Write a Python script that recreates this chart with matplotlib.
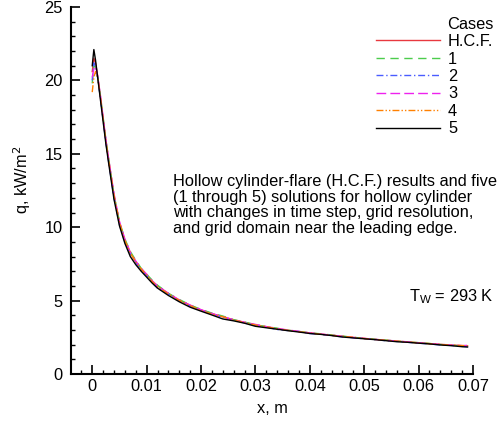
import matplotlib
matplotlib.use("Agg")
import matplotlib.pyplot as plt
from matplotlib.ticker import MultipleLocator

plt.rcParams['font.family'] = ['Liberation Sans', 'DejaVu Sans']
plt.rcParams['font.size'] = 11.8

# distance from leading edge, m
x = [0.0, 0.0003, 0.0006, 0.001, 0.0015, 0.002, 0.0025, 0.003, 0.004, 0.005,
     0.006, 0.007, 0.008, 0.009, 0.010, 0.011, 0.012, 0.014, 0.016, 0.018,
     0.020, 0.022, 0.024, 0.026, 0.028, 0.030, 0.032, 0.034, 0.036, 0.038,
     0.040, 0.042, 0.044, 0.046, 0.048, 0.050, 0.052, 0.054, 0.056, 0.058,
     0.060, 0.062, 0.064, 0.066, 0.068, 0.069]

# heat flux, kW/m^2
q_hcf = [20.6, 21.5, 21.2, 20.3, 18.9, 17.4, 15.9, 14.6, 12.1, 10.3,
         9.1, 8.25, 7.65, 7.15, 6.75, 6.35, 6.0, 5.48, 5.02, 4.68,
         4.37, 4.12, 3.9, 3.69, 3.52, 3.35, 3.22, 3.09, 2.98, 2.89,
         2.8, 2.72, 2.64, 2.57, 2.49, 2.42, 2.36, 2.3, 2.24, 2.18,
         2.13, 2.07, 2.02, 1.97, 1.94, 1.92]
q_case1 = [19.8, 21.0, 20.9, 20.2, 18.9, 17.5, 16.0, 14.7, 12.2, 10.4,
           9.2, 8.35, 7.75, 7.2, 6.8, 6.4, 6.05, 5.5, 5.08, 4.7,
           4.4, 4.15, 3.95, 3.7, 3.54, 3.36, 3.22, 3.12, 2.98, 2.9,
           2.8, 2.74, 2.66, 2.58, 2.5, 2.43, 2.37, 2.31, 2.24, 2.17,
           2.14, 2.08, 2.01, 1.96, 1.91, 1.89]
q_case2 = [20.0, 21.2, 21.0, 20.2, 18.8, 17.3, 15.8, 14.5, 12.0, 10.2,
           9.0, 8.2, 7.6, 7.05, 6.7, 6.25, 5.85, 5.45, 5.0, 4.62,
           4.34, 4.1, 3.86, 3.66, 3.48, 3.3, 3.2, 3.03, 2.96, 2.9,
           2.76, 2.7, 2.62, 2.53, 2.47, 2.4, 2.34, 2.27, 2.22, 2.16,
           2.1, 2.05, 1.98, 1.95, 1.88, 1.86]
q_case3 = [20.2, 20.8, 21.0, 20.3, 19.0, 17.5, 16.0, 14.7, 12.3, 10.4,
           9.2, 8.3, 7.7, 7.2, 6.8, 6.35, 6.0, 5.5, 5.05, 4.7,
           4.38, 4.12, 3.9, 3.7, 3.52, 3.38, 3.23, 3.1, 3.0, 2.9,
           2.8, 2.72, 2.65, 2.57, 2.49, 2.43, 2.36, 2.3, 2.25, 2.19,
           2.12, 2.07, 2.02, 1.98, 1.93, 1.95]
q_case4 = [19.2, 20.2, 20.6, 20.2, 18.9, 17.4, 15.9, 14.6, 12.2, 10.35,
           9.1, 8.25, 7.65, 7.15, 6.75, 6.3, 5.95, 5.45, 5.02, 4.66,
           4.33, 4.08, 3.9, 3.68, 3.5, 3.34, 3.22, 3.08, 2.97, 2.88,
           2.79, 2.71, 2.63, 2.57, 2.5, 2.42, 2.35, 2.3, 2.24, 2.18,
           2.12, 2.07, 2.01, 1.97, 1.93, 1.92]
q_case5 = [21.0, 22.1, 21.4, 20.2, 18.7, 17.2, 15.7, 14.4, 11.9, 10.1,
           8.9, 8.0, 7.45, 7.0, 6.6, 6.2, 5.85, 5.35, 4.92, 4.55,
           4.28, 4.02, 3.75, 3.62, 3.46, 3.25, 3.15, 3.05, 2.95, 2.86,
           2.76, 2.7, 2.62, 2.52, 2.46, 2.4, 2.34, 2.27, 2.2, 2.16,
           2.1, 2.05, 1.98, 1.93, 1.86, 1.84]

labels = ["H.C.F.", "1", "2", "3", "4", "5"]

fig = plt.figure(figsize=(5.04, 4.23), dpi=100)
ax = fig.add_axes([0.1409, 0.1158, 0.7976, 0.8677])

ax.plot(x, q_hcf, color="#e8383f", lw=1.0, label=labels[0])
ax.plot(x, q_case1, color="#4ccc4c", lw=1.0, dashes=(6, 4), label=labels[1])
ax.plot(x, q_case2, color="#4a5cff", lw=1.0, dashes=(5, 2, 1, 2), label=labels[2])
ax.plot(x, q_case3, color="#ee22ee", lw=1.0, dashes=(7, 3), label=labels[3])
ax.plot(x, q_case4, color="#ff8000", lw=1.0, dashes=(5, 1.5, 1, 1.5, 1, 1.5), label=labels[4])
ax.plot(x, q_case5, color="black", lw=1.0, label=labels[5])

ax.set_xlim(-0.0039, 0.07)
ax.set_ylim(0, 25)
ax.xaxis.set_minor_locator(MultipleLocator(0.002))
ax.yaxis.set_major_locator(MultipleLocator(5))
ax.yaxis.set_minor_locator(MultipleLocator(1))
ax.set_xticks([0, 0.01, 0.02, 0.03, 0.04, 0.05, 0.06, 0.07])
ax.set_xticklabels(["0", "0.01", "0.02", "0.03", "0.04", "0.05", "0.06", "0.07"])
ax.tick_params(which="major", direction="in", length=6.5, width=1.2)
ax.tick_params(which="minor", direction="in", length=3.2, width=1.0)
ax.tick_params(axis="y", which="major", pad=6)
ax.spines["top"].set_visible(False)
ax.spines["right"].set_visible(False)
ax.spines["left"].set_linewidth(1.5)
ax.spines["bottom"].set_linewidth(1.5)

ax.set_xlabel("x, m", labelpad=5)
ax.set_ylabel("q, kW/m$^2$")
ax.yaxis.set_label_coords(-0.095, 0.53)

ax.text(0.253, 0.545,
        "Hollow cylinder-flare (H.C.F.) results and five\n"
        "(1 through 5) solutions for hollow cylinder\n"
        "with changes in time step, grid resolution,\n"
        "and grid domain near the leading edge.",
        transform=ax.transAxes, va="top", ha="left", linespacing=1.05)
ax.text(0.84, 0.21, "T$_\\mathregular{W}$ = 293 K", transform=ax.transAxes,
        ha="left", va="center")

leg = ax.legend(title="Cases", loc="upper right", bbox_to_anchor=(0.995, 0.98),
                bbox_transform=fig.transFigure, frameon=False,
                handlelength=3.9, handletextpad=0.5, labelspacing=0.15,
                borderpad=0, alignment="right")

fig.savefig("out.png", dpi=100)
